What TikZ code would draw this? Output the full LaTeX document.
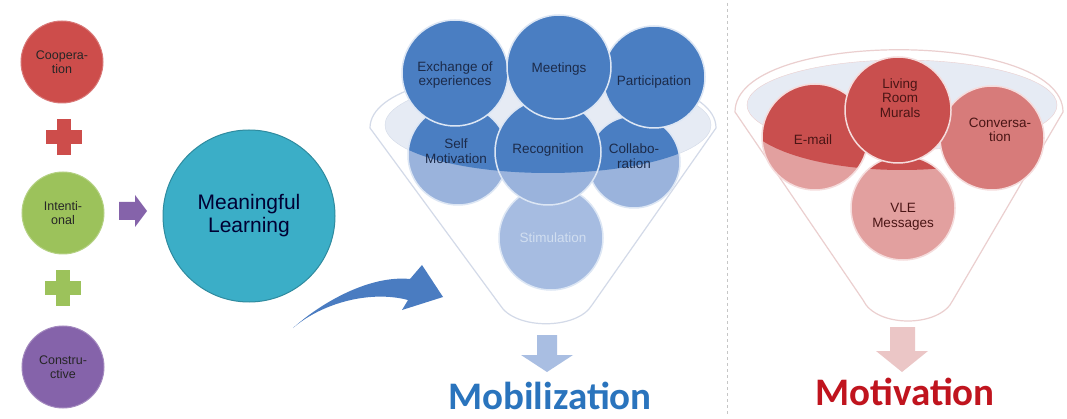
\documentclass[tikz,border=0pt]{standalone}
\usepackage{fontspec}
\setmainfont{Liberation Sans}
\newfontfamily\carlito{Carlito}
\definecolor{coopred}{HTML}{CD4D4B}
\definecolor{intgreen}{HTML}{9CC25B}
\definecolor{conpurple}{HTML}{8563AA}
\definecolor{mlteal}{HTML}{3BAEC7}
\definecolor{bdark}{HTML}{4A7EC2}
\definecolor{blight}{HTML}{9AB3DC}
\definecolor{bstim}{HTML}{A6BCE1}
\definecolor{btext}{HTML}{1C2B4A}
\definecolor{rdark}{HTML}{C94F4E}
\definecolor{rmid}{HTML}{D77B7A}
\definecolor{rlight}{HTML}{E2A09F}
\definecolor{rtext}{HTML}{4A1515}
\definecolor{funblue}{HTML}{D3DAE8}
\definecolor{funred}{HTML}{EBCFCF}
\definecolor{ellfill}{HTML}{E6EBF4}
\definecolor{mobblue}{HTML}{2A74BD}
\definecolor{motred}{HTML}{C0141E}
\definecolor{arrblue}{HTML}{A9BEE2}
\definecolor{arrred}{HTML}{EBC6C6}
\definecolor{curveblue}{HTML}{4A7CC1}
\definecolor{bline}{HTML}{DCE6F4}
\definecolor{rline}{HTML}{F5DCDC}
\begin{document}
\begin{tikzpicture}[x=1pt,y=-1pt,
  lc/.style={circle, minimum size=82pt, inner sep=0pt, align=center,
    font=\fontsize{12.5}{13.5}\selectfont, text=black!85, line width=1pt},
  bcirc/.style={circle, inner sep=0pt, draw=bline, line width=1.5pt},
  rcirc/.style={circle, inner sep=0pt, draw=rline, line width=1.5pt},
  btxt/.style={align=center, inner sep=0pt, font=\fontsize{13.5}{14.5}\selectfont, text=btext},
  rtxt/.style={align=center, inner sep=0pt, font=\fontsize{13.5}{14.5}\selectfont, text=rtext},
  bigword/.style={anchor=base, inner sep=0pt, font=\carlito\bfseries\fontsize{39}{42}\selectfont}]
\path[use as bounding box] (0,0) rectangle (1067,419);
\fill[white] (0,0) rectangle (1067,419);

% ---------- left column ----------
\node[lc, fill=coopred, draw=coopred!75!white] (coop) at (62,62) {Coopera-\\tion};
\node[lc, fill=intgreen, draw=intgreen!75!white] (inten) at (63,213) {Intenti-\\onal};
\node[lc, fill=conpurple, draw=conpurple!75!white] (cons) at (63,367) {Constru-\\ctive};
\fill[coopred] (46,130) rectangle (82,144);
\fill[coopred] (57,119) rectangle (71,155);
\fill[intgreen] (45,281) rectangle (81,295);
\fill[intgreen] (56,270) rectangle (70,306);
\fill[conpurple] (119,202) -- (135,202) -- (135,195) -- (147,211) -- (135,227) -- (135,220) -- (119,220) -- cycle;

\node[circle, minimum size=172pt, inner sep=0pt, fill=mlteal, draw=mlteal!80!black, line width=1pt,
  align=center, font=\fontsize{21}{23}\selectfont, text=black!80!blue] (ml) at (249,216) {Meaningful\\Learning};

% curved arrow
\fill[curveblue] (293,328) .. controls (322,302) and (370,275) .. (410,279) -- (422,265) -- (443,297)
  -- (402,310) -- (408,300) .. controls (370,290) and (322,303) .. (293,328) -- cycle;

% separator
\draw[dashed, gray!45, line width=0.8pt] (727,3) -- (727,416);

% ---------- Mobilization funnel ----------
\draw[funblue, line width=1.2pt, fill=white] (370,128) .. controls (370,51) and (716,51) .. (716,128)
  -- (592,305) .. controls (577,330) and (515,330) .. (500,305) -- cycle;
\draw[funblue, fill=ellfill] (548,125) ellipse[x radius=163pt, y radius=48pt];

\node[bcirc, minimum size=104pt, fill=bstim] (stim) at (551,238) {};
\node[bcirc, minimum size=100pt, fill=blight] (selfm) at (458,155) {};
\begin{scope}
  \clip (548,125) ellipse[x radius=163pt, y radius=48pt];
  \fill[bdark] (selfm.center) circle[radius=49pt];
\end{scope}
\node[bcirc, minimum size=92pt, fill=blight] (collab) at (634,162) {};
\begin{scope}
  \clip (548,125) ellipse[x radius=163pt, y radius=48pt];
  \fill[bdark] (collab.center) circle[radius=45pt];
\end{scope}
\node[bcirc, minimum size=106pt, fill=blight] (recog) at (548,152) {};
\begin{scope}
  \clip (548,125) ellipse[x radius=163pt, y radius=48pt];
  \fill[bdark] (recog.center) circle[radius=52pt];
\end{scope}
\node[bcirc, minimum size=106pt, fill=bdark] (exch) at (455,73) {};
\node[bcirc, minimum size=102pt, fill=bdark] (part) at (654,77) {};
\node[bcirc, minimum size=104pt, fill=bdark] (meet) at (559,67) {};

\node[btxt] (texch) at (455,75) {Exchange of\\experiences};
\node[btxt] (tmeet) at (559,69) {Meetings};
\node[btxt] (tpart) at (654,82) {Participation};
\node[btxt] (tself) at (456,151) {Self\\Motivation};
\node[btxt] (trecog) at (548,150) {Recognition};
\node[btxt] (tcollab) at (634,156) {Collabo-\\ration};
\node[btxt, text=bline!80!bstim] (tstim) at (553,238) {Stimulation};

\fill[arrblue] (537,335) -- (557,335) -- (557,355) -- (573,355) -- (547,372) -- (521,355) -- (537,355) -- cycle;
\node[bigword, text=mobblue] (mob) at (550,409) {Mobilization};

% ---------- Motivation funnel ----------
\draw[funred, line width=1.2pt, fill=white] (735,112) .. controls (735,29) and (1063,29) .. (1063,112)
  -- (953,300) .. controls (940,328) and (876,328) .. (863,300) -- cycle;
\draw[funred, fill=ellfill] (902,105) ellipse[x radius=155pt, y radius=45pt];

\node[rcirc, minimum size=106pt, fill=rlight] (email) at (815,137) {};
\begin{scope}
  \clip (902,115) ellipse[x radius=158pt, y radius=55pt];
  \fill[rdark] (email.center) circle[radius=52pt];
\end{scope}
\node[rcirc, minimum size=104pt, fill=rmid] (conv) at (992,138) {};
\node[rcirc, minimum size=104pt, fill=rlight] (vle) at (903,208) {};
\begin{scope}
  \clip (902,115) ellipse[x radius=158pt, y radius=55pt];
  \fill[rdark] (vle.center) circle[radius=51pt];
\end{scope}
\node[rcirc, minimum size=106pt, fill=rdark] (living) at (898,110) {};

\node[rtxt] (temail) at (813,140) {E-mail};
\node[rtxt] (tliving) at (900,98) {Living\\Room\\Murals};
\node[rtxt] (tconv) at (1000,130) {Conversa-\\tion};
\node[rtxt] (tvle) at (903,217) {VLE\\Messages};

\fill[arrred] (890,327) -- (915,327) -- (915,351) -- (928,351) -- (902,372) -- (876,351) -- (890,351) -- cycle;
\node[bigword, text=motred] (mot) at (905,405) {Motivation};
\end{tikzpicture}
\end{document}
